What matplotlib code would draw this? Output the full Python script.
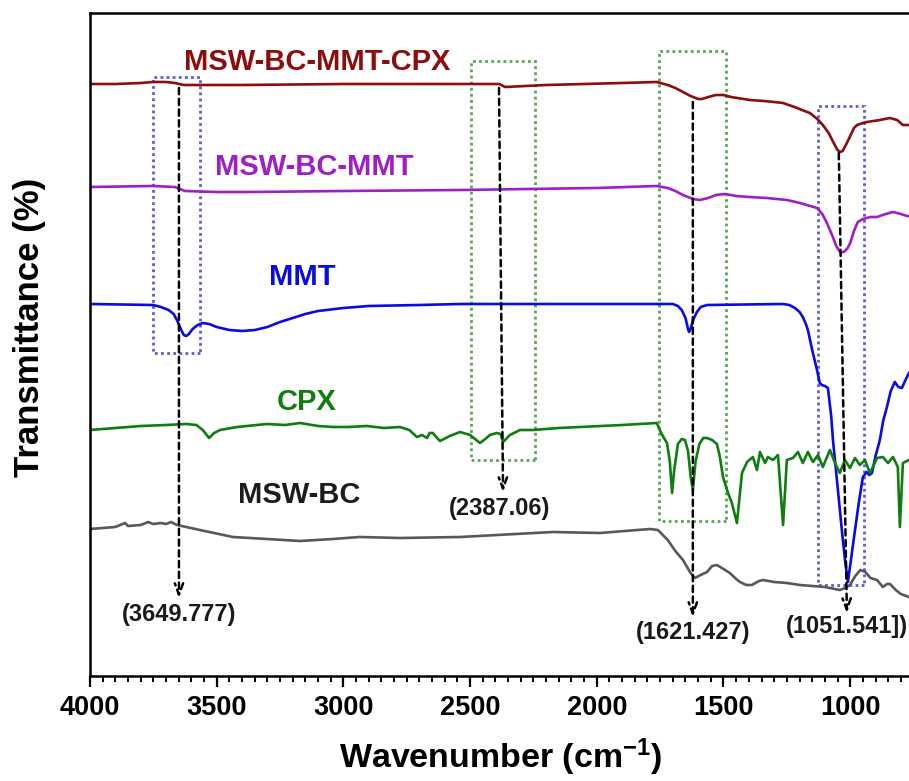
import matplotlib
matplotlib.use("Agg")
import matplotlib.pyplot as plt
import matplotlib.patches as mpatches
from matplotlib.ticker import MultipleLocator

plt.rcParams["font.family"] = ["Liberation Sans", "DejaVu Sans"]
plt.rcParams["font.weight"] = "bold"
plt.rcParams["mathtext.fontset"] = "custom"
plt.rcParams["mathtext.rm"] = "Liberation Sans:bold"
plt.rcParams["mathtext.default"] = "rm"

# FTIR spectra, stacked: wavenumber (cm-1) and offset transmittance (a.u.)
cpx_comp_wn = [4000, 3900, 3800, 3751, 3700, 3665, 3630, 3605, 3400, 3000, 2579,
               2400, 2385, 2362, 2200, 1900, 1763, 1720, 1690, 1660, 1630, 1600,
               1585, 1560, 1530, 1500, 1470, 1420, 1396, 1340, 1300, 1265, 1220,
               1180, 1159, 1130, 1108, 1085, 1065, 1050, 1040, 1030, 1015, 1000,
               985, 973, 950, 934, 883, 843, 815, 792, 768]
cpx_comp_t = [592, 592, 593, 594, 594, 593, 591, 591, 591, 592, 592,
              592, 592, 589, 591, 593, 594, 591, 588, 584, 580, 577,
              577, 579, 581, 581, 579, 577, 576, 575, 574, 573, 569,
              565, 563, 557, 551, 543, 533, 526, 524, 525, 532, 540,
              548, 551, 553, 554, 556, 558, 556, 551, 551]

bc_mmt_wn = [4000, 3751, 3665, 3625, 3500, 3369, 3000, 2540, 2000, 1763, 1720,
             1690, 1660, 1620, 1593, 1560, 1530, 1494, 1450, 1400, 1329, 1250,
             1198, 1131, 1110, 1090, 1070, 1055, 1040, 1025, 1010, 1000, 985,
             970, 950, 920, 894, 860, 831, 800, 776, 768]
bc_mmt_t = [489, 490, 489, 485, 484, 484, 485, 486, 488, 490, 488,
            485, 481, 477, 476, 478, 481, 482, 480, 479, 478, 476,
            473, 468, 462, 452, 440, 430, 424, 424, 428, 433, 445,
            454, 457, 459, 459, 462, 464, 462, 460, 460]

mmt_wn = [4000, 3751, 3720, 3690, 3670, 3655, 3640, 3630, 3620, 3610, 3595, 3575,
          3555, 3530, 3500, 3450, 3400, 3350, 3300, 3250, 3200, 3150, 3100, 3000,
          2900, 2700, 2540, 1751, 1700, 1680, 1665, 1650, 1640, 1636, 1630, 1620,
          1605, 1590, 1565, 1265, 1240, 1218, 1200, 1187, 1175, 1167, 1150, 1131,
          1120, 1112, 1100, 1088, 1075, 1068, 1050, 1033, 1020, 1009, 995, 981,
          965, 950, 935, 925, 914, 900, 883, 870, 855, 840, 824, 810, 796, 780,
          768]
mmt_t = [372, 371, 369, 366, 362, 355, 346, 341, 340, 342, 347, 351,
         353, 352, 349, 346, 345, 346, 349, 354, 358, 362, 365, 368,
         370, 371, 372, 372, 372, 370, 366, 358, 347, 344, 347, 356,
         364, 369, 371, 372, 371, 368, 364, 359, 352, 346, 326, 306,
         293, 291, 290, 288, 260, 236, 190, 146, 115, 94, 120, 146,
         175, 199, 204, 201, 203, 220, 236, 255, 269, 285, 294, 289, 288, 297,
         303]

cpx_wn = [4000, 3900, 3800, 3700, 3620, 3580, 3555, 3530, 3510, 3487, 3420, 3302,
          3230, 3171, 3100, 3041, 2980, 2907, 2840, 2777, 2740, 2710, 2690, 2670,
          2660, 2647, 2630, 2619, 2580, 2540, 2500, 2461, 2440, 2422, 2395, 2380,
          2370, 2362, 2343, 2303, 2252, 2150, 2067, 1900, 1763, 1750, 1735, 1723,
          1712, 1703, 1695, 1680, 1665, 1652, 1640, 1630, 1621, 1610, 1595, 1580,
          1565, 1545, 1526, 1515, 1502, 1482, 1467, 1447, 1427, 1407, 1384, 1368,
          1356, 1336, 1325, 1305, 1285, 1265, 1250, 1226, 1206, 1187, 1167, 1147,
          1127, 1108, 1080, 1060, 1041, 1021, 1001, 981, 962, 942, 922, 894, 871,
          851, 831, 812, 804, 792, 768]
cpx_t = [246, 248, 250, 251, 252, 251, 246, 238, 243, 246, 249, 252,
         251, 253, 250, 249, 249, 250, 248, 249, 246, 239, 241, 238,
         243, 243, 238, 235, 240, 244, 241, 233, 237, 241, 243, 242,
         234, 236, 241, 246, 246, 248, 249, 251, 253, 245, 238, 233,
         215, 183, 205, 232, 237, 236, 225, 200, 186, 215, 232, 238,
         238, 236, 232, 220, 199, 183, 173, 153, 203, 214, 219, 206,
         224, 213, 219, 216, 221, 151, 216, 218, 224, 213, 224, 214,
         221, 209, 226, 213, 203, 216, 208, 218, 211, 216, 203, 218, 219,
         213, 219, 209, 149, 213, 216]

bc_wn = [4000, 3950, 3900, 3862, 3850, 3800, 3770, 3751, 3720, 3700, 3680, 3657,
         3566, 3436, 3302, 3171, 3041, 2935, 2777, 2540, 2173, 1988, 1790, 1759,
         1720, 1690, 1660, 1630, 1613, 1590, 1565, 1545, 1526, 1500, 1475, 1450,
         1435, 1410, 1388, 1360, 1344, 1300, 1250, 1198, 1100, 1041, 1020, 1001,
         980, 960, 940, 920, 894, 871, 855, 843, 820, 800, 768]
bc_t = [147, 148, 149, 153, 150, 151, 154, 152, 153, 152, 154, 151,
        146, 139, 137, 135, 137, 139, 138, 139, 144, 143, 147, 146,
        136, 125, 116, 103, 98, 101, 104, 110, 111, 107, 103, 97,
        94, 91, 91, 95, 96, 94, 93, 91, 89, 86, 88, 91,
        100, 106, 104, 98, 96, 89, 92, 92, 86, 82, 79]

series = [
    ("MSW-BC-MMT-CPX", cpx_comp_wn, cpx_comp_t, "#8b0d0d", (3104, 614)),
    ("MSW-BC-MMT", bc_mmt_wn, bc_mmt_t, "#a01ec8", (3116, 509)),
    ("MMT", mmt_wn, mmt_t, "#0a0ae6", (3163, 399)),
    ("CPX", cpx_wn, cpx_t, "#0f7d0f", (3144, 274)),
    ("MSW-BC", bc_wn, bc_t, "#585858", (3175, 181)),
]
label_colors = ["#8b0d0d", "#a01ec8", "#0a0ae6", "#0f7d0f", "#1c1c1c"]

# peak markers: label, arrow top (wn, t), arrow tip (wn, t), text (wn, t)
peak_labels = ["(3649.777)", "(2387.06)", "(1621.427)", "(1051.541])"]
peak_top = [(3649, 588), (2386, 588), (1621, 574), (1045, 523)]
peak_tip = [(3649, 78), (2370, 184), (1621, 59), (1013, 63)]
peak_text = [(3649, 61), (2382, 168), (1621, 44), (1013, 49)]

# highlighted regions: wn left, wn right, t bottom, t top
boxes = [(3751, 3566, 323, 599, "#5c5ce0"),
         (2497, 2244, 216, 615, "#55a855"),
         (1755, 1490, 155, 625, "#55a855"),
         (1127, 946, 91, 570, "#5c5ce0")]

fig = plt.figure(figsize=(9.09, 7.81), dpi=100)
ax = fig.add_axes([90 / 909, 105 / 781, (4000 - 765) * 0.2534 / 909, 663 / 781])

for (name, wn, t, color, pos), lc in zip(series, label_colors):
    ax.plot(wn, t, color=color, lw=1.9, solid_joinstyle="round")
    ax.text(pos[0], pos[1], name, color=lc, fontsize=21, fontweight="bold",
            ha="center", va="center")

for x0, x1, y0, y1, c in boxes:
    ax.add_patch(mpatches.Rectangle((x1, y0), x0 - x1, y1 - y0, fill=False,
                                    edgecolor=c, lw=2, linestyle=(0, (1, 1.2))))

for lab, top, tip, tpos in zip(peak_labels, peak_top, peak_tip, peak_text):
    ax.annotate("", xy=tip, xytext=top,
                arrowprops=dict(arrowstyle="->,head_length=0.8,head_width=0.3",
                                color="black", lw=1.8, linestyle=(0, (2.5, 1.8)),
                                shrinkA=0, shrinkB=0))
    ax.text(tpos[0], tpos[1], lab, fontsize=17, fontweight="bold",
            ha="center", va="center", color="#1a1a1a")

ax.set_xlim(4000, 765)
ax.set_ylim(0, 663)
ax.set_yticks([])
ax.xaxis.set_major_locator(MultipleLocator(500))
ax.xaxis.set_minor_locator(MultipleLocator(50))
ax.tick_params(axis="x", which="major", direction="out", length=8, width=1.6,
               labelsize=19.5, pad=6)
ax.tick_params(axis="x", which="minor", direction="out", length=4, width=1.4)
for lbl in ax.get_xticklabels():
    lbl.set_fontweight("bold")
for side in ["left", "bottom", "top"]:
    ax.spines[side].set_linewidth(1.8)
ax.spines["right"].set_visible(False)

fig.text(501 / 909, 1 - 757 / 781, "Wavenumber (cm$^{-1}$)", fontsize=24.5,
         fontweight="bold", ha="center", va="center")
fig.text(30 / 909, 1 - 327 / 781, "Transmittance (%)", fontsize=25,
         fontweight="bold", ha="center", va="center", rotation=90)

fig.savefig("out.png", dpi=100)
